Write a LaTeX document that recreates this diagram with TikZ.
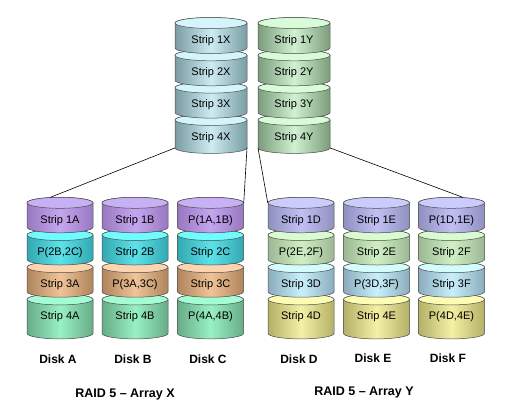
\documentclass[tikz,border=0pt]{standalone}
\usepackage{fontspec}
\setmainfont{Liberation Sans}
\usetikzlibrary{shapes.geometric}

% top stacks
\definecolor{Xtop}{HTML}{D4F6FA}\definecolor{Xside}{HTML}{7C9CA4}\definecolor{Xmid}{HTML}{CCECF2}
\definecolor{Ytop}{HTML}{D8FCD8}\definecolor{Yside}{HTML}{7C9C7C}\definecolor{Ymid}{HTML}{D0F2D0}
% array X rows
\definecolor{ax1top}{HTML}{C8B0F4}\definecolor{ax1side}{HTML}{9878C0}\definecolor{ax1mid}{HTML}{C4A6F0}
\definecolor{ax2top}{HTML}{70FCFC}\definecolor{ax2side}{HTML}{34A8B0}\definecolor{ax2mid}{HTML}{5CE2EA}
\definecolor{ax3top}{HTML}{FCD4B0}\definecolor{ax3side}{HTML}{B0845C}\definecolor{ax3mid}{HTML}{F0C498}
\definecolor{ax4top}{HTML}{A4FCD4}\definecolor{ax4side}{HTML}{68AC88}\definecolor{ax4mid}{HTML}{98F0C4}
% array Y rows
\definecolor{ay1top}{HTML}{CCCCFC}\definecolor{ay1side}{HTML}{9090C0}\definecolor{ay1mid}{HTML}{C0C0F4}
\definecolor{ay2top}{HTML}{D8FCD0}\definecolor{ay2side}{HTML}{9CB894}\definecolor{ay2mid}{HTML}{D0F0C4}
\definecolor{ay3top}{HTML}{D4FCFC}\definecolor{ay3side}{HTML}{8CACBC}\definecolor{ay3mid}{HTML}{C8F0FC}
\definecolor{ay4top}{HTML}{FCFCB4}\definecolor{ay4side}{HTML}{B4B068}\definecolor{ay4mid}{HTML}{F4F0A4}

\tikzset{
  rim/.style={draw=black!70, line width=0.5pt},
  lid/.style={rim, ellipse, inner sep=0pt, minimum height=11pt},
  txt/.style={font=\fontsize{11}{12}\selectfont, inner sep=0pt},
  disklab/.style={font=\bfseries\fontsize{12}{14}\selectfont},
  arraylab/.style={font=\bfseries\fontsize{12.5}{14}\selectfont},
  link/.style={line width=0.6pt},
}

% name, x, y, body height, top, side, mid, text
\newcommand\strip[8]{%
  \path[rim, left color=#6, right color=#6, middle color=#7]
    (#2,#3) ++(-\hw,0) -- ++(0,-#4pt) coordinate (#1-sw)
    arc[start angle=180, end angle=360, x radius=\hw, y radius=5.5pt] coordinate (#1-se)
    -- ++(0,#4pt) arc[start angle=0, end angle=180, x radius=\hw, y radius=5.5pt] -- cycle;
  \node[lid, fill=#5, minimum width=2*\hw] (#1) at (#2,#3) {};
  \node[txt] (#1-t) at (#2,#3+17.5) {#8};
}
% name, x, four texts
\newcommand\disk[6]{%
  \strip{#1-4}{#2}{299.4}{34}{\pal4top}{\pal4side}{\pal4mid}{#6}
  \strip{#1-3}{#2}{267.2}{24.5}{\pal3top}{\pal3side}{\pal3mid}{#5}
  \strip{#1-2}{#2}{235}{24.5}{\pal2top}{\pal2side}{\pal2mid}{#4}
  \strip{#1-1}{#2}{202.8}{24.5}{\pal1top}{\pal1side}{\pal1mid}{#3}
}

\begin{document}
\begin{tikzpicture}[x=1pt, y=-1pt]
  \useasboundingbox (0,0) rectangle (517,413);

  \def\hw{36pt}
  \strip{x4}{211}{119.9}{28}{Xtop}{Xside}{Xmid}{Strip 4X}
  \strip{x3}{211}{87.6}{25}{Xtop}{Xside}{Xmid}{Strip 3X}
  \strip{x2}{211}{55.3}{25}{Xtop}{Xside}{Xmid}{Strip 2X}
  \strip{x1}{211}{23}{25}{Xtop}{Xside}{Xmid}{Strip 1X}
  \strip{y4}{294}{119.9}{28}{Ytop}{Yside}{Ymid}{Strip 4Y}
  \strip{y3}{294}{87.6}{25}{Ytop}{Yside}{Ymid}{Strip 3Y}
  \strip{y2}{294}{55.3}{25}{Ytop}{Yside}{Ymid}{Strip 2Y}
  \strip{y1}{294}{23}{25}{Ytop}{Yside}{Ymid}{Strip 1Y}

  \def\hw{33pt}
  \def\pal{ax}
  \disk{a}{60}{Strip 1A}{P(2B,2C)}{Strip 3A}{Strip 4A}
  \disk{b}{135}{Strip 1B}{Strip 2B}{P(3A,3C)}{Strip 4B}
  \disk{c}{210.5}{P(1A,1B)}{Strip 2C}{Strip 3C}{P(4A,4B)}
  \def\pal{ay}
  \disk{d}{301}{Strip 1D}{P(2E,2F)}{Strip 3D}{Strip 4D}
  \disk{e}{376.5}{Strip 1E}{Strip 2E}{P(3D,3F)}{Strip 4E}
  \disk{f}{451.5}{P(1D,1E)}{Strip 2F}{Strip 3F}{P(4D,4E)}

  \draw[link] (x4-sw) -- (a-1.150);
  \draw[link] (x4-se) -- (c-1.east);
  \draw[link] (y4-sw) -- (d-1.west);
  \draw[link] (y4-se) -- (f-1.25);

  \node[disklab] (lA) at (58,359) {Disk A};
  \node[disklab] (lB) at (133,359) {Disk B};
  \node[disklab] (lC) at (208,359) {Disk C};
  \node[disklab] (lD) at (299,359) {Disk D};
  \node[disklab] (lE) at (373,358) {Disk E};
  \node[disklab] (lF) at (448,358) {Disk F};

  \node[arraylab] (rx) at (125,394) {RAID 5 -- Array X};
  \node[arraylab] (ry) at (364,392) {RAID 5 -- Array Y};
\end{tikzpicture}
\end{document}
